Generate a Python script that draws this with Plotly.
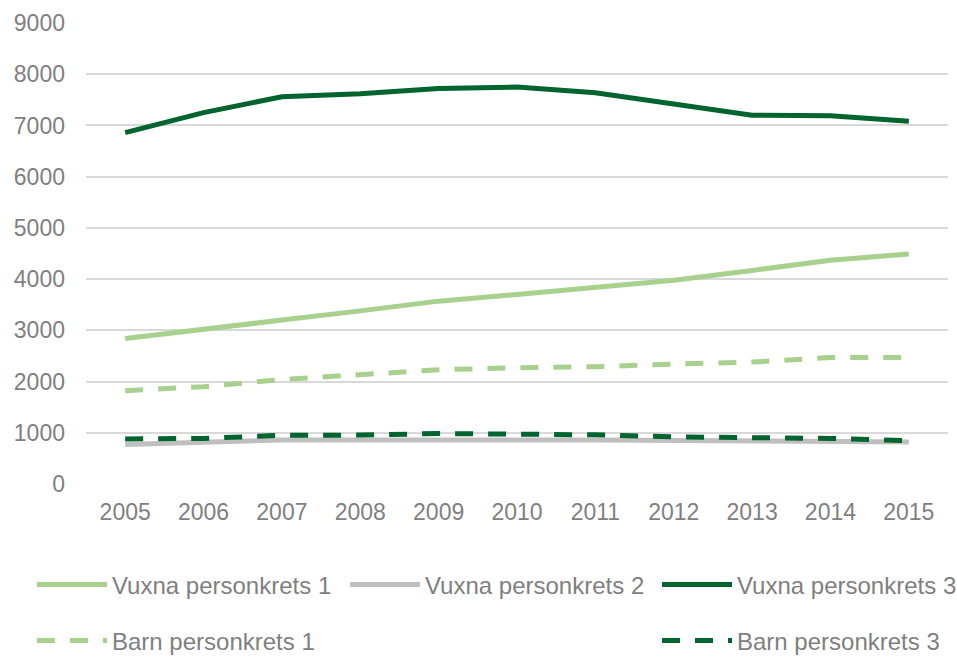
import plotly.graph_objects as go

years = ["2005", "2006", "2007", "2008", "2009", "2010", "2011", "2012", "2013", "2014", "2015"]
vuxna_1 = [2840, 3010, 3200, 3380, 3570, 3700, 3840, 3980, 4170, 4370, 4490]
vuxna_2 = [770, 820, 860, 860, 870, 860, 860, 850, 830, 830, 820]
vuxna_3 = [6860, 7250, 7560, 7620, 7720, 7750, 7640, 7410, 7200, 7190, 7080]
barn_1 = [1820, 1900, 2040, 2130, 2230, 2270, 2290, 2340, 2380, 2470, 2470]
barn_3 = [880, 890, 950, 955, 985, 980, 960, 920, 900, 890, 845]

y_ticks = [0, 1000, 2000, 3000, 4000, 5000, 6000, 7000, 8000, 9000]

LIGHT = "#A9D18E"
GRAY = "#BFBFBF"
DARK = "#00642F"
TXT = "#7F7F7F"
FONT = "Liberation Sans, Arial, sans-serif"

W, H = 957, 657
M_L, M_R, M_T, M_B = 86, 9, 23, 173
PLOT_H = H - M_T - M_B

fig = go.Figure()
fig.add_trace(go.Scatter(x=years, y=vuxna_1, mode="lines", name="Vuxna personkrets 1",
                         line=dict(color=LIGHT, width=5), legend="legend"))
fig.add_trace(go.Scatter(x=years, y=vuxna_2, mode="lines", name="Vuxna personkrets 2",
                         line=dict(color=GRAY, width=5), legend="legend2"))
fig.add_trace(go.Scatter(x=years, y=vuxna_3, mode="lines", name="Vuxna personkrets 3",
                         line=dict(color=DARK, width=5), legend="legend3"))
fig.add_trace(go.Scatter(x=years, y=barn_1, mode="lines", name="Barn personkrets 1",
                         line=dict(color=LIGHT, width=5, dash="18px,15px"), legend="legend4"))
fig.add_trace(go.Scatter(x=years, y=barn_3, mode="lines", name="Barn personkrets 3",
                         line=dict(color=DARK, width=5, dash="18px,15px"), legend="legend5"))


def leg(xpx, ypx):
    return dict(orientation="h", font=dict(family=FONT, size=24, color=TXT),
                bgcolor="rgba(0,0,0,0)", itemwidth=70,
                xref="container", yref="paper", xanchor="left", yanchor="middle",
                x=xpx / W, y=(H - M_B - ypx) / PLOT_H)


fig.update_layout(
    width=W, height=H,
    margin=dict(l=M_L, r=M_R, t=M_T, b=M_B, autoexpand=False),
    paper_bgcolor="white", plot_bgcolor="white",
    font=dict(family=FONT, size=23, color=TXT),
    showlegend=True,
    legend=leg(32, 585),
    legend2=leg(345, 585),
    legend3=leg(657, 585),
    legend4=leg(32, 641),
    legend5=leg(657, 641),
    xaxis=dict(type="category", range=[-0.5, 10.5], showgrid=False, showline=False,
               ticks="", tickfont=dict(size=23, color=TXT), ticklabelstandoff=12),
    yaxis=dict(range=[0, 9000], tickvals=y_ticks, showgrid=True, gridcolor="#D9D9D9",
               gridwidth=1.5, zeroline=False, showline=False, ticks="",
               tickfont=dict(size=23, color=TXT), ticklabelstandoff=20),
)

fig.write_html("out.html", config={"displayModeBar": False},
               post_script="document.body.style.margin='0';document.body.style.overflow='hidden';")
